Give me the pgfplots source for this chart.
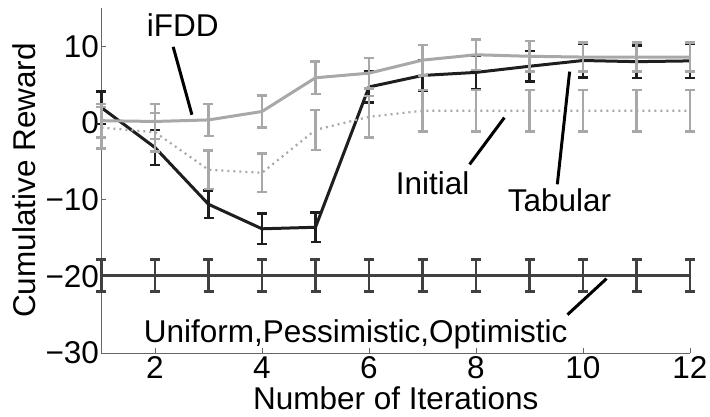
\documentclass[border=0pt]{standalone}
\usepackage{pgfplots}
\pgfplotsset{compat=1.18}
\usepackage{fontspec}
\setmainfont{Liberation Sans}
\definecolor{tabc}{HTML}{1E1E1E}
\definecolor{ifddc}{HTML}{A8A8A8}
\definecolor{initc}{HTML}{A8A8A8}
\definecolor{unic}{HTML}{404040}
\newcommand{\bigf}{\fontsize{31.5}{37}\selectfont}
\begin{document}
\begin{tikzpicture}
\begin{axis}[
  scale only axis,
  width=588.5pt, height=345pt,
  xmin=1, xmax=12, ymin=-30, ymax=15,
  axis lines*=left,
  axis line style={color=black!60, line width=0.8pt},
  xtick={2,4,6,8,10,12},
  ytick={-30,-20,-10,0,10},
  yticklabels={−30,−20,−10,0,10},
  tick align=inside,
  major tick length=5pt,
  tick style={color=black!60, line width=0.8pt},
  /pgf/number format/assume math mode=true,
  tick label style={font=\bigf},
  xticklabel style={yshift=0pt},
  yticklabel style={xshift=1pt},
  xlabel={Number of Iterations},
  ylabel={Cumulative Reward},
  label style={font=\bigf},
  xlabel style={at={(axis description cs:0.5,-0.130)}, anchor=center},
  ylabel style={at={(axis description cs:-0.131,0.5)}, anchor=center},
  clip=false,
]
% Uniform, Pessimistic, Optimistic
\addplot[color=unic, line width=2.5pt, no markers,
  error bars/.cd, y dir=both, y explicit,
  error bar style={line width=2.5pt, color=unic},
  error mark options={rotate=90, line width=2.5pt, color=unic, mark size=5pt}]
  table[x=x, y=y, y error=e] {
x y e
1 -19.9 2.1
2 -19.9 2.1
3 -19.9 2.1
4 -19.9 2.1
5 -19.9 2.1
6 -19.9 2.1
7 -19.9 2.1
8 -19.9 2.1
9 -19.9 2.1
10 -19.9 2.1
11 -19.9 2.1
12 -19.9 2.1
};
% Tabular
\addplot[color=tabc, line width=3pt, no markers,
  error bars/.cd, y dir=both, y explicit,
  error bar style={line width=2.5pt, color=tabc},
  error mark options={rotate=90, line width=2.5pt, color=tabc, mark size=5pt}]
  table[x=x, y=y, y error=e] {
x y e
1 2.0 2.1
2 -3.2 2.3
3 -10.6 1.8
4 -13.8 2.0
5 -13.6 1.95
6 4.7 2.0
7 6.2 2.0
8 6.6 2.2
9 7.4 2.0
10 8.15 2.2
11 8.0 2.1
12 8.1 2.2
};
% Initial
\addplot[color=initc, line width=2.2pt, no markers, dash pattern=on 2pt off 4pt,
  error bars/.cd, y dir=both, y explicit,
  error bar style={line width=2.5pt, color=initc, solid},
  error mark options={rotate=90, line width=2.5pt, color=initc, mark size=5pt, solid}]
  table[x=x, y=y, y error=e] {
x y e
1 -0.6 2.7
2 -1.2 2.5
3 -6.1 2.5
4 -6.5 2.5
5 -0.9 2.6
6 0.8 2.7
7 1.6 2.7
8 1.6 2.7
9 1.6 2.7
10 1.6 2.7
11 1.6 2.7
12 1.6 2.7
};
% iFDD
\addplot[color=ifddc, line width=3pt, no markers,
  error bars/.cd, y dir=both, y explicit,
  error bar style={line width=2.5pt, color=ifddc},
  error mark options={rotate=90, line width=2.5pt, color=ifddc, mark size=5pt}]
  table[x=x, y=y, y error=e] {
x y e
1 0.3 2.2
2 0.2 2.3
3 0.4 2.1
4 1.5 2.1
5 5.9 2.1
6 6.5 2.0
7 8.2 2.0
8 8.9 2.0
9 8.7 2.0
10 8.6 1.9
11 8.6 1.9
12 8.6 1.9
};
% annotations
\draw[line width=3pt, black] (axis cs:2.34,9.93) -- (axis cs:2.69,1.08);
\node[font=\bigf, anchor=center] at (axis cs:2.52,12.8) {iFDD};
\draw[line width=3pt, black] (axis cs:7.88,-5.4) -- (axis cs:8.53,0.7);
\node[font=\bigf, anchor=center] at (axis cs:7.19,-7.8) {Initial};
\draw[line width=3pt, black] (axis cs:9.52,-8.0) -- (axis cs:9.75,6.7);
\node[font=\bigf, anchor=center] at (axis cs:9.56,-10.1) {Tabular};
\draw[line width=3pt, black] (axis cs:9.71,-25.0) -- (axis cs:10.44,-20.3);
\node[font=\bigf, anchor=center] at (axis cs:5.75,-27.6) {Uniform,Pessimistic,Optimistic};
\end{axis}
\pgfresetboundingbox
\useasboundingbox ([shift={(-101.5pt,-64pt)}]current axis.south west) rectangle ([shift={(20pt,8pt)}]current axis.north east);
\end{tikzpicture}
\end{document}
